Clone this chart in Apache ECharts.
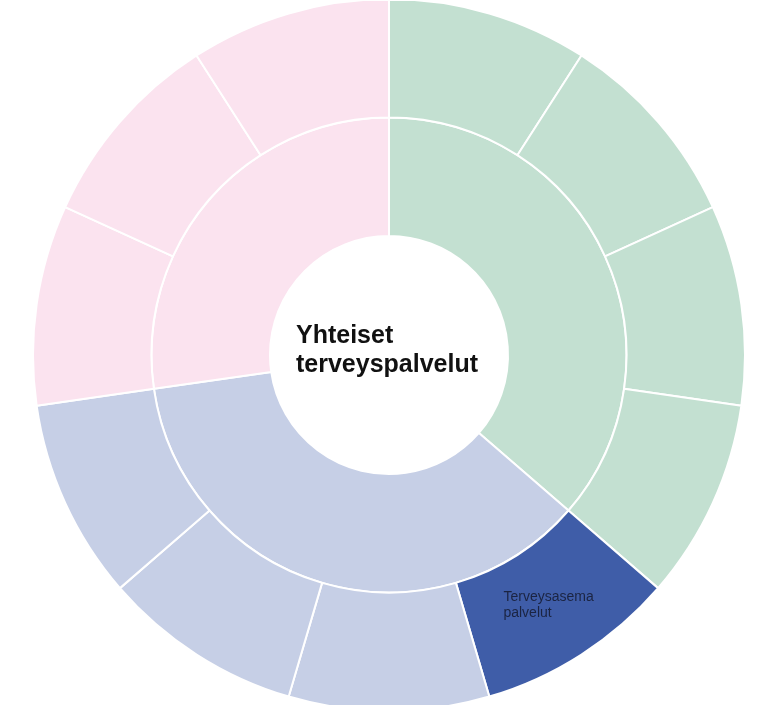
<!DOCTYPE html>
<html>
<head>
<meta charset="utf-8">
<script src="https://cdn.jsdelivr.net/npm/echarts@6/dist/echarts.min.js"></script>
<style>
html,body{margin:0;padding:0;background:#fff;}
#chart{width:757px;height:705px;}
</style>
</head>
<body>
<div id="chart"></div>
<script>
// ---- data ----
const centerTitle = ['Yhteiset', 'terveyspalvelut'];
const groupNames = ['A', 'B', 'C'];
const leafValues = [
  [1, 1, 1, 1],
  [1, 1, 1, 1],
  [1, 1, 1]
];
const leafLabels = [
  ['', '', '', ''],
  ['Terveysasema\npalvelut', '', '', ''],
  ['', '', '']
];
const highlightedLeaf = [1, 0];

// ---- styles ----
const groupColors = ['#c3e0d1', '#c6cfe6', '#fbe3ef'];
const highlightColor = '#3f5da8';

const data = groupNames.map((g, gi) => ({
  name: g,
  itemStyle: { color: groupColors[gi] },
  label: { show: false },
  children: leafValues[gi].map((v, li) => {
    const isHi = gi === highlightedLeaf[0] && li === highlightedLeaf[1];
    return {
      name: leafLabels[gi][li],
      value: v,
      itemStyle: { color: isHi ? highlightColor : groupColors[gi] },
      label: isHi ? {
        show: true,
        rotate: 0,
        offset: [0, -5],
        formatter: (p) => p.name.split('\n').map(s => '{a|' + s + '}').join('\n'),
        rich: {
          a: { width: 92, align: 'left', fontSize: 14, lineHeight: 16, color: '#1b2442', fontFamily: 'Liberation Sans, Arial, sans-serif' }
        }
      } : { show: false }
    };
  })
}));

const chart = echarts.init(document.getElementById('chart'), null, { renderer: 'canvas' });
chart.setOption({
  animation: false,
  series: [{
    type: 'sunburst',
    center: [389, 355],
    radius: [119, 356],
    sort: null,
    startAngle: 90,
    clockwise: true,
    nodeClick: false,
    emphasis: { disabled: true },
    itemStyle: { borderColor: '#ffffff', borderWidth: 2 },
    label: { show: false },
    data: data
  }],
  graphic: [{
    type: 'text',
    left: 296,
    top: 322,
    style: {
      text: centerTitle.join('\n'),
      font: 'bold 25px "Liberation Sans", Arial, sans-serif',
      lineHeight: 29,
      fill: '#111111',
      textAlign: 'left'
    }
  }]
});
</script>
</body>
</html>
